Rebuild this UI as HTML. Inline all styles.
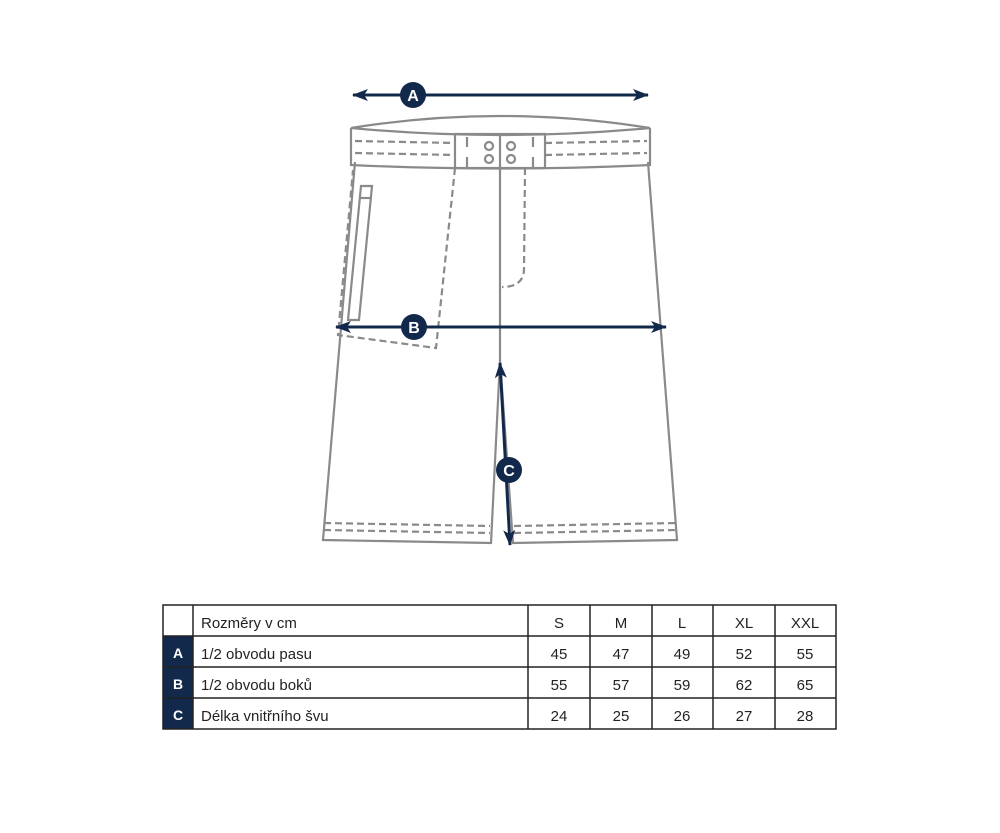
<!DOCTYPE html>
<html><head><meta charset="utf-8"><style>
body{margin:0;background:#fff;width:1000px;height:833px;overflow:hidden;font-family:"Liberation Sans",sans-serif}
svg{position:absolute;left:0;top:0}
</style></head><body>
<svg width="1000" height="833" viewBox="0 0 1000 833">
<defs>
<marker id="ah" viewBox="0 0 16 12" refX="15" refY="6" markerWidth="16" markerHeight="12" markerUnits="userSpaceOnUse" orient="auto-start-reverse"><path d="M0,0 L16,6 L0,12 L4,6 Z" fill="#13294b"/></marker>
</defs>
<g fill="none" stroke="#8a8a8a" stroke-width="2.2">
<path d="M351,128 Q500,104 650,128 Q500,142 351,128 Z"/>
<path d="M351,128 L351,165 Q500,172 650,165 L650,128"/>
<path d="M355,162 L323,540 L491,543 L500,360 L513,543 L677,540 L648,162"/>
<line x1="500" y1="167" x2="500" y2="360"/>
<rect x="455" y="134" width="90" height="34"/>
<line x1="500" y1="134" x2="500" y2="168"/>
<line x1="467" y1="137" x2="467" y2="147"/><line x1="467" y1="157" x2="467" y2="167"/>
<line x1="533" y1="137" x2="533" y2="147"/><line x1="533" y1="157" x2="533" y2="167"/>
<circle cx="489" cy="146" r="4"/><circle cx="511" cy="146" r="4"/>
<circle cx="489" cy="159" r="4"/><circle cx="511" cy="159" r="4"/>
<path d="M361,186 L372,186 L359,320 L348,320 Z"/>
<line x1="360" y1="198" x2="371" y2="198"/>
</g>
<g fill="none" stroke="#8a8a8a" stroke-width="2.2" stroke-dasharray="7,4">
<path d="M355,141 L455,143 M355,153 L455,155 M545,143 L647,141 M545,155 L647,153"/>
<path d="M455,168 L436,348 L338,335 L353,170"/>
<path d="M525,168 L524,270 Q523,287 502,287"/>
<path d="M324,523 L490,526 M324,530 L490,533 M514,526 L677,523 M514,533 L677,530"/>
</g>
<g stroke="#13294b" stroke-width="3">
<line x1="353" y1="95" x2="648" y2="95" marker-start="url(#ah)" marker-end="url(#ah)"/>
<line x1="336" y1="327" x2="666" y2="327" marker-start="url(#ah)" marker-end="url(#ah)"/>
<line x1="500" y1="363" x2="510" y2="545" marker-start="url(#ah)" marker-end="url(#ah)"/>
</g>
<g fill="#13294b"><circle cx="413" cy="95" r="13"/><circle cx="414" cy="327" r="13"/><circle cx="509" cy="470" r="13"/></g>
<g fill="#fff" font-weight="bold" font-size="16" text-anchor="middle">
<text x="413" y="101">A</text><text x="414" y="333">B</text><text x="509" y="476">C</text>
</g>
<rect x="163" y="636" width="30" height="93" fill="#13294b"/>
<g stroke="#222" stroke-width="1.5" fill="none">
<rect x="163" y="605" width="673" height="124"/>
<line x1="163" y1="636" x2="836" y2="636"/><line x1="163" y1="667" x2="836" y2="667"/><line x1="163" y1="698" x2="836" y2="698"/>
<line x1="193" y1="605" x2="193" y2="729"/><line x1="528" y1="605" x2="528" y2="729"/><line x1="590" y1="605" x2="590" y2="729"/>
<line x1="652" y1="605" x2="652" y2="729"/><line x1="713" y1="605" x2="713" y2="729"/><line x1="775" y1="605" x2="775" y2="729"/>
</g>
<g fill="#fff" font-weight="bold" font-size="14" text-anchor="middle">
<text x="178" y="658">A</text><text x="178" y="689">B</text><text x="178" y="720">C</text>
</g>
<g fill="#222" font-size="15">
<text x="201" y="628">Rozměry v cm</text><text x="201" y="659">1/2 obvodu pasu</text>
<text x="201" y="690">1/2 obvodu boků</text><text x="201" y="721">Délka vnitřního švu</text>
</g>
<g fill="#222" font-size="15" text-anchor="middle">
<text x="559" y="628">S</text><text x="621" y="628">M</text><text x="682" y="628">L</text><text x="744" y="628">XL</text><text x="805" y="628">XXL</text>
<text x="559" y="659">45</text><text x="621" y="659">47</text><text x="682" y="659">49</text><text x="744" y="659">52</text><text x="805" y="659">55</text>
<text x="559" y="690">55</text><text x="621" y="690">57</text><text x="682" y="690">59</text><text x="744" y="690">62</text><text x="805" y="690">65</text>
<text x="559" y="721">24</text><text x="621" y="721">25</text><text x="682" y="721">26</text><text x="744" y="721">27</text><text x="805" y="721">28</text>
</g>
</svg>
</body></html>
